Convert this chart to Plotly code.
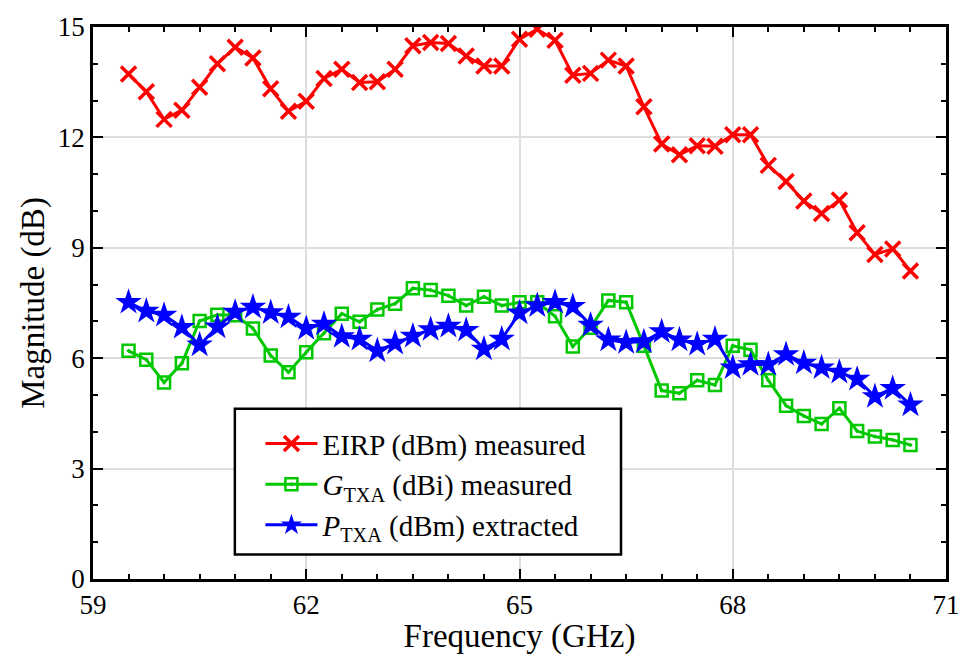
import plotly.graph_objects as go

freq = [59.5 + 0.25 * i for i in range(45)]

eirp = [13.72, 13.24, 12.49, 12.74, 13.36, 14.0, 14.45, 14.16, 13.32, 12.71, 12.98, 13.60, 13.85, 13.49, 13.51,
        13.85, 14.49, 14.58, 14.55, 14.21, 13.94, 13.94, 14.67, 14.94, 14.64, 13.69, 13.74, 14.10, 13.94, 12.83,
        11.82, 11.53, 11.77, 11.76, 12.07, 12.07, 11.24, 10.80, 10.27, 9.93, 10.30, 9.41, 8.82, 8.97, 8.37]

g_txa = [6.20, 5.96, 5.34, 5.86, 7.01, 7.18, 7.17, 6.81, 6.07, 5.62, 6.16, 6.68, 7.21, 6.99, 7.32,
         7.48, 7.90, 7.85, 7.70, 7.43, 7.67, 7.43, 7.52, 7.52, 7.14, 6.32, 6.83, 7.57, 7.52, 6.34, 5.12,
         5.05, 5.40, 5.27, 6.34, 6.23, 5.40, 4.71, 4.43, 4.21, 4.64, 4.02, 3.87, 3.78, 3.64]

p_txa = [7.52, 7.28, 7.17, 6.84, 6.36, 6.85, 7.25, 7.39, 7.24, 7.12, 6.81, 6.93, 6.59, 6.52, 6.20,
         6.41, 6.60, 6.78, 6.87, 6.76, 6.25, 6.52, 7.23, 7.43, 7.52, 7.41, 6.90, 6.50, 6.43, 6.45, 6.72,
         6.50, 6.38, 6.52, 5.74, 5.83, 5.83, 6.10, 5.87, 5.74, 5.62, 5.43, 4.96, 5.18, 4.73]

x_ticks = [59, 62, 65, 68, 71]
y_ticks = [0, 3, 6, 9, 12, 15]

names = ["EIRP (dBm) measured",
         "<i>G</i><sub>TXA</sub> (dBi) measured",
         "<i>P</i><sub>TXA</sub> (dBm) extracted"]

FONT = "Liberation Serif"

fig = go.Figure()
fig.add_trace(go.Scatter(
    x=freq, y=eirp, mode="lines+markers", name=names[0],
    line=dict(color="#ff0000", width=3),
    marker=dict(symbol="x-thin", size=15, line=dict(color="#ff0000", width=3.5))))
fig.add_trace(go.Scatter(
    x=freq, y=g_txa, mode="lines+markers", name=names[1],
    line=dict(color="#00c800", width=3),
    marker=dict(symbol="square-open-dot", size=12, color="#00c800", line=dict(color="#00c800", width=2.5))))
fig.add_trace(go.Scatter(
    x=freq, y=p_txa, mode="lines+markers", name=names[2],
    line=dict(color="#0000ff", width=3),
    marker=dict(symbol="star", size=20, color="#0000ff", line=dict(width=0))))

fig.add_shape(type="rect", xref="paper", yref="paper",
              x0=0.1663, x1=0.619, y0=0.0446, y1=0.3084,
              line=dict(color="black", width=2.5), fillcolor="white", layer="above")

fig.update_layout(
    width=972, height=655,
    margin=dict(l=93, r=13, t=22, b=72),
    paper_bgcolor="white", plot_bgcolor="white",
    legend=dict(
        x=0.1963, y=0.171, xanchor="left", yanchor="middle",
        bgcolor="rgba(0,0,0,0)", borderwidth=0,
        font=dict(family=FONT, size=29, color="black"),
        itemwidth=52, tracegroupgap=0,
    ),
    showlegend=True,
)

fig.update_xaxes(
    range=[59, 71], tickvals=x_ticks, ticktext=[str(v) for v in x_ticks],
    showgrid=True, gridcolor="#dddddd", gridwidth=2,
    showline=True, linecolor="black", linewidth=2.5, mirror="ticks",
    ticks="inside", ticklen=10, tickwidth=2, tickcolor="black",
    minor=dict(dtick=0.5, tick0=59, ticks="inside", ticklen=5, tickwidth=1.5, tickcolor="black", showgrid=False),
    zeroline=False, ticklabeloverflow="allow",
    title=dict(text="Frequency (GHz)", font=dict(family=FONT, size=33, color="black"), standoff=0),
    tickfont=dict(family=FONT, size=27, color="black"),
)
fig.update_yaxes(
    range=[0, 15], tickvals=y_ticks, ticktext=[str(v) for v in y_ticks],
    showgrid=True, gridcolor="#dddddd", gridwidth=2,
    showline=True, linecolor="black", linewidth=2.5, mirror="ticks",
    ticks="inside", ticklen=10, tickwidth=2, tickcolor="black",
    minor=dict(dtick=1, tick0=0, ticks="inside", ticklen=5, tickwidth=1.5, tickcolor="black", showgrid=False),
    zeroline=False, ticklabeloverflow="allow",
    title=dict(text="Magnitude (dB)", font=dict(family=FONT, size=33, color="black"), standoff=4),
    tickfont=dict(family=FONT, size=27, color="black"),
)

fig.write_html("out.html")
